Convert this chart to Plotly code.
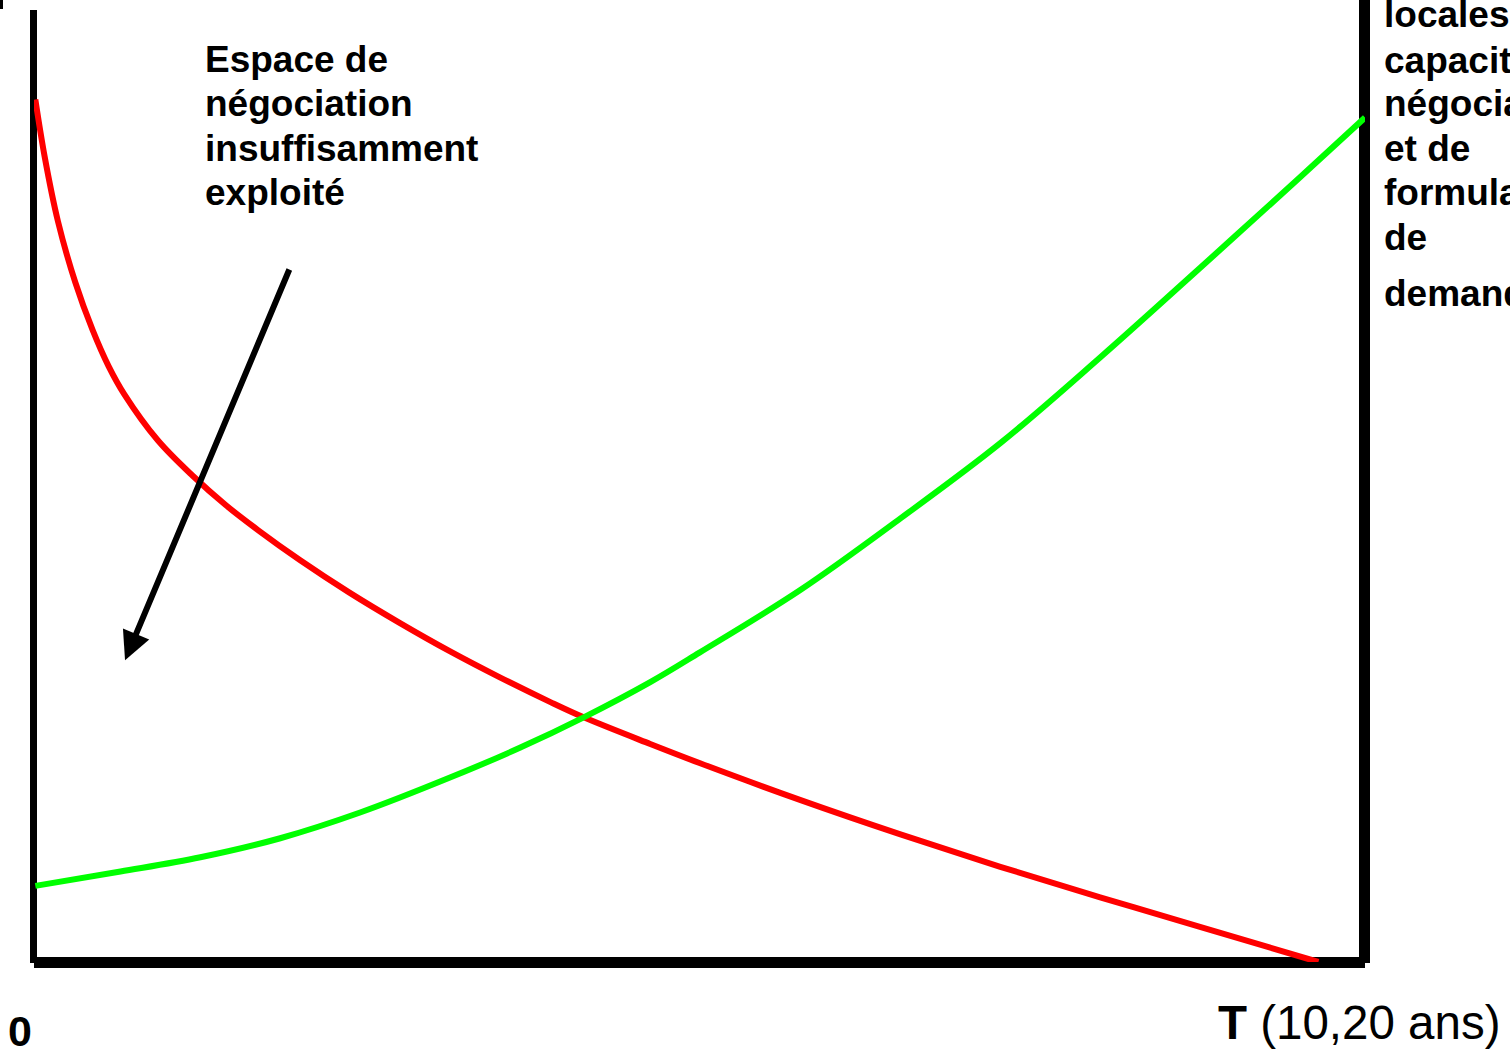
import plotly.graph_objects as go

# Red curve (declining) - x in time units (0..10 = T), y in level (0..100)
red_x = [0.01, 0.08, 0.18, 0.31, 0.44, 0.56, 0.68, 0.93, 1.19, 1.44, 1.68, 2.00,
         2.37, 2.75, 3.13, 3.50, 3.88, 4.13, 4.63, 5.00, 5.76, 6.51, 7.26,
         8.01, 8.76, 9.65]
red_y = [90.6, 84.6, 77.8, 71.4, 66.4, 62.6, 59.6, 54.8, 51.1, 48.0, 45.4, 42.2,
         38.8, 35.6, 32.6, 29.9, 27.3, 25.7, 22.9, 20.9, 17.0, 13.4, 10.0,
         6.8, 3.7, 0.0]

# Green curve (rising)
green_x = [0.01, 0.65, 1.25, 1.85, 2.45, 3.13, 3.65, 4.13, 4.63, 5.00, 5.76,
           6.51, 7.26, 8.01, 8.76, 9.51, 10.0]
green_y = [8.0, 9.5, 11.0, 13.0, 15.7, 19.4, 22.5, 25.7, 29.4, 32.5, 39.1,
           46.6, 54.5, 63.5, 72.9, 82.4, 88.7]

left_label = ["Espace de", "négociation", "insuffisamment", "exploité"]
right_label = ["locales", "capacités", "négociation", "et de", "formulation", "de",
               "demandes"]

W, H = 1510, 1050
L, R, T, B = 34, 1365, 10, 962   # plot box in window pixels


def px(x):
    return (x - L) / (R - L)


def py(y):
    return (B - y) / (B - T)


fig = go.Figure()

fig.add_trace(go.Scatter(
    x=red_x, y=red_y, mode='lines',
    line=dict(color='#ff0000', width=6, shape='spline', smoothing=1.0),
    hoverinfo='skip'
))
fig.add_trace(go.Scatter(
    x=green_x, y=green_y, mode='lines',
    line=dict(color='#00ff00', width=6, shape='spline', smoothing=1.0),
    hoverinfo='skip'
))

# frame lines drawn as black bars
bars = [
    (30, 10, 37, 963),      # left
    (34, 957, 1365, 968),   # bottom
    (1359, 0, 1370, 963),   # right
    (0, 0, 3, 9),           # small mark top-left
]
for x0, y0, x1, y1 in bars:
    fig.add_shape(type='rect', xref='paper', yref='paper',
                  x0=px(x0), x1=px(x1), y0=py(y1), y1=py(y0),
                  line=dict(width=0), fillcolor='black', layer='below')

font_b = dict(family='Liberation Sans, Arial, sans-serif', size=37, color='black')

for i, txt in enumerate(left_label):
    fig.add_annotation(text='<b>%s</b>' % txt, xref='paper', yref='paper',
                       x=px(203), y=py(59 + 44.5 * i), xanchor='left', yanchor='middle',
                       showarrow=False, font=font_b)

right_centers = [15, 60, 104, 148, 192, 237, 293]
for txt, cy in zip(right_label, right_centers):
    fig.add_annotation(text='<b>%s</b>' % txt, xref='paper', yref='paper',
                       x=px(1382), y=py(cy), xanchor='left', yanchor='middle',
                       showarrow=False, font=font_b)

# arrow pointing into the gap
fig.add_annotation(x=0.684, y=31.7, ax=1.923, ay=72.9, xref='x', yref='y',
                   axref='x', ayref='y', text='', showarrow=True,
                   arrowhead=2, arrowsize=0.95, arrowwidth=6, arrowcolor='black')

fig.add_annotation(text='<b>0</b>', xref='paper', yref='paper', x=px(6), y=py(1031),
                   xanchor='left', yanchor='middle', showarrow=False,
                   font=dict(family='Liberation Sans, Arial, sans-serif', size=43, color='black'))
fig.add_annotation(text='<b>T</b> (10,20 ans)', xref='paper', yref='paper',
                   x=px(1216), y=py(1022), xanchor='left', yanchor='middle', showarrow=False,
                   font=dict(family='Liberation Sans, Arial, sans-serif', size=47.5, color='black'))

fig.update_xaxes(range=[0, 10], visible=False, showgrid=False, zeroline=False)
fig.update_yaxes(range=[0, 100], visible=False, showgrid=False, zeroline=False)
fig.update_layout(
    width=W, height=H,
    margin=dict(l=L, r=W - R, t=T, b=H - B),
    paper_bgcolor='white', plot_bgcolor='white',
    showlegend=False
)

# drop the default page margin so the figure sits at the window origin
fig.write_html("out.html", config={'displayModeBar': False},
               post_script="document.body.style.margin='0';")
